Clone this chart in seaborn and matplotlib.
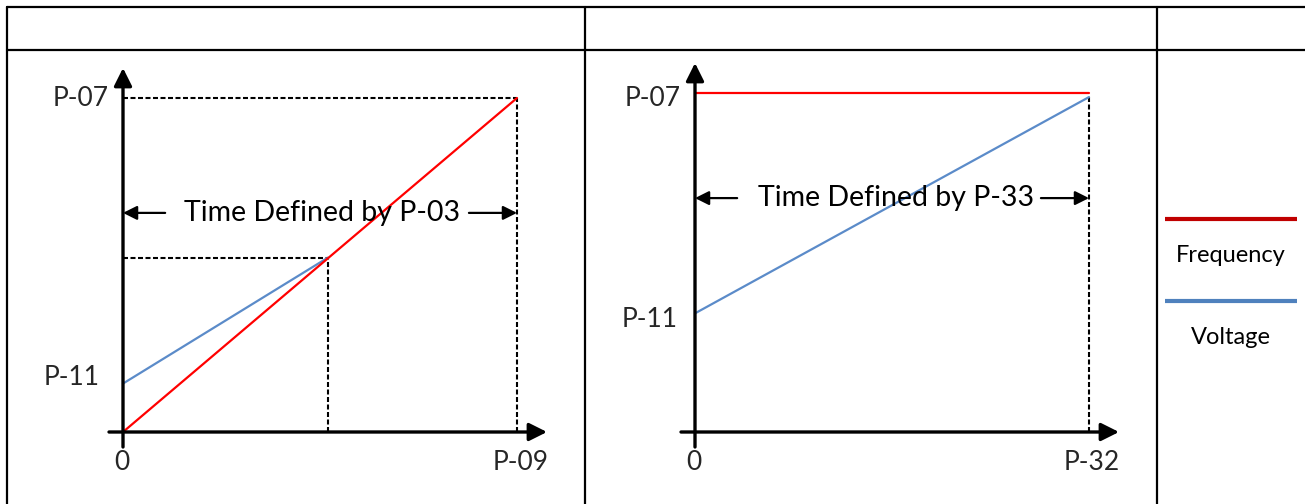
import matplotlib
matplotlib.use("Agg")
import matplotlib.pyplot as plt
from matplotlib.lines import Line2D
import pandas as pd
import seaborn as sns

# series and colours
series_order = ["Voltage", "Frequency"]          # frequency drawn on top
line_colors = {"Frequency": "#ff0000", "Voltage": "#5b8bc9"}
legend_names = ["Frequency", "Voltage"]
legend_colors = ["#c00000", "#4f81bd"]

# left panel: both ramp, voltage starts at P-11 and meets frequency
left_time_freq = [0.0, 1.0]
left_freq = [0.0, 1.0]
left_time_volt = [0.0, 0.52]
left_volt = [0.145, 0.522]
left_xlabels = ["0", "P-09"]
left_ylabels = ["P-11", "P-07"]
left_span = "Time Defined by P-03"

# right panel: frequency held at P-07, voltage ramps from P-11
right_time_freq = [0.0, 1.0]
right_freq = [1.0, 1.0]
right_time_volt = [0.0, 1.0]
right_volt = [0.35, 0.988]
right_xlabels = ["0", "P-32"]
right_ylabels = ["P-11", "P-07"]
right_span = "Time Defined by P-33"

W, H = 1305, 504

sns.set_style("white")
plt.rcParams['font.family'] = ['Lato', 'DejaVu Sans']

fig = plt.figure(figsize=(W / 100, H / 100), dpi=100)


def px_axes(x0, x1, y0, y1):
    # data 0..1 mapped onto pixel box (y counted from top)
    ax = fig.add_axes([x0 / W, 1 - y0 / H, (x1 - x0) / W, (y0 - y1) / H])
    ax.set_xlim(0, 1)
    ax.set_ylim(0, 1)
    ax.axis("off")
    return ax


def make_df(tf, f, tv, v):
    return pd.concat([
        pd.DataFrame({"time": tf, "value": f, "series": "Frequency"}),
        pd.DataFrame({"time": tv, "value": v, "series": "Voltage"}),
    ])


def arrow(ax, tail, tip, lw, scale):
    ax.annotate("", xy=tip, xytext=tail, annotation_clip=False,
                arrowprops=dict(arrowstyle="-|>,head_length=0.6,head_width=0.3",
                                lw=lw, color="black", mutation_scale=scale,
                                shrinkA=0, shrinkB=0))


def panel(ax, df, ylabels, yvals, xlabels, span, span_pos, ylab_off, xlab_off,
          ext):
    sx, sy = ext
    sns.lineplot(data=df, x="time", y="value", hue="series",
                 hue_order=series_order, palette=line_colors, lw=1.6,
                 legend=False, ax=ax, clip_on=False)
    # axes with arrowheads
    arrow(ax, (0, -15 / sy), (0, 1 + 30 / sy), 2.4, 18)
    arrow(ax, (-14 / sx, 0), (1 + 30 / sx, 0), 2.4, 18)
    # span arrow + text
    y_s, x_s = span_pos
    ax.text(x_s, y_s, span, ha="center", va="center", fontsize=20.5,
            color="black")
    arrow(ax, (0.107, y_s), (0, y_s), 1.6, 14)
    arrow(ax, (0.878, y_s), (1, y_s), 1.6, 14)
    for lab, val, (dx, dy) in zip(ylabels, yvals, ylab_off):
        ax.annotate(lab, xy=(0, val), xytext=(dx, dy), textcoords="offset pixels",
                    ha="right", va="center", fontsize=19, annotation_clip=False)
    ax.annotate(xlabels[0], xy=(0, 0), xytext=(-1, -30), textcoords="offset pixels",
                ha="center", va="center", fontsize=19, annotation_clip=False)
    ax.annotate(xlabels[1], xy=(1, 0), xytext=(xlab_off, -30),
                textcoords="offset pixels", ha="right", va="center", fontsize=19,
                annotation_clip=False)


dash = dict(color="black", lw=1.5, ls=(0, (2.4, 1.2)), clip_on=False)

# left panel
axL = px_axes(123, 517, 432, 98)
panel(axL, make_df(left_time_freq, left_freq, left_time_volt, left_volt),
      left_ylabels, [left_volt[0], left_freq[-1]], left_xlabels, left_span,
      (0.656, 0.505), [(-23, 6), (-14, 0)], 32, (394, 334))
axL.hlines(left_freq[-1], 0, left_time_freq[-1], zorder=1, **dash)
axL.vlines(left_time_freq[-1], 0, left_freq[-1], zorder=1, **dash)
axL.hlines(left_volt[-1], 0, left_time_volt[-1], zorder=1, **dash)
axL.vlines(left_time_volt[-1], 0, left_volt[-1], zorder=1, **dash)

# right panel
axR = px_axes(695, 1089, 432, 93)
panel(axR, make_df(right_time_freq, right_freq, right_time_volt, right_volt),
      right_ylabels, [right_volt[0], right_freq[-1]], right_xlabels, right_span,
      (0.69, 0.511), [(-17, -6), (-14, -5)], 31, (394, 339))
axR.vlines(right_time_volt[-1], 0, right_volt[-1], zorder=1, **dash)

# legend cell
axLeg = fig.add_axes([1165 / W, 1 - 360 / H, 132 / W, 160 / H])
axLeg.set_xlim(0, 1)
axLeg.set_ylim(360, 200)
axLeg.axis("off")
for i, (name, col) in enumerate(zip(legend_names, legend_colors)):
    y = 219 + i * 82
    axLeg.hlines(y, 0, 1, color=col, lw=3, clip_on=False)
    axLeg.text(0.5, y + 37, name, ha="center", va="center", fontsize=17,
               color="black")

# table frame
frame = dict(color="black", lw=1.6, transform=None)
for xs, ys in [((7, W), (H - 7, H - 7)), ((7, W), (H - 50, H - 50)),
               ((7, 7), (0, H - 7)), ((585, 585), (0, H - 7)),
               ((1157, 1157), (0, H - 7))]:
    fig.add_artist(Line2D(xs, ys, **frame))

fig.savefig("out.png", dpi=100)
